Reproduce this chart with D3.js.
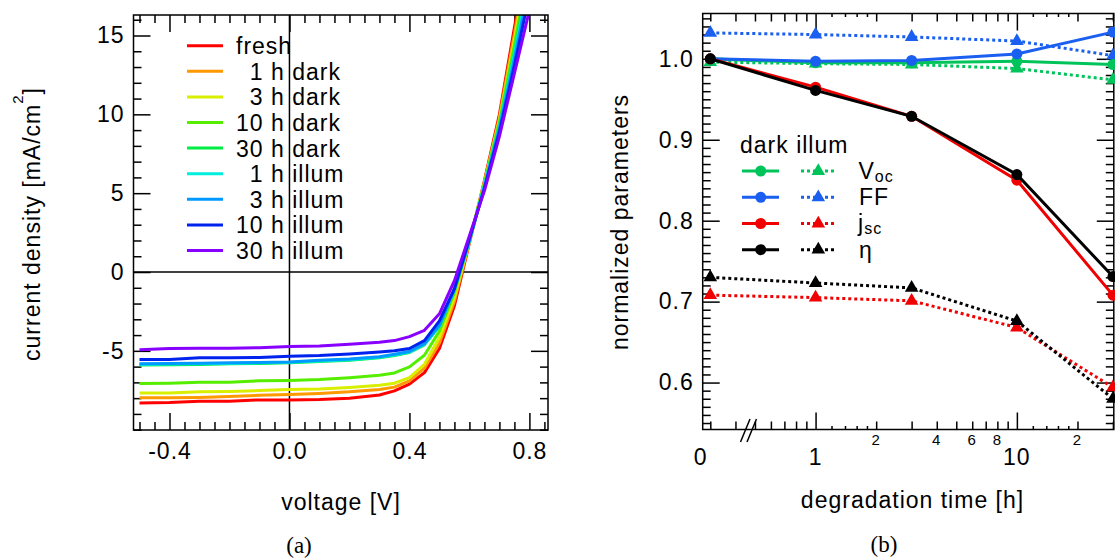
<!DOCTYPE html>
<html><head><meta charset="utf-8">
<script src="https://cdn.jsdelivr.net/npm/d3@7"></script>
<style>
body{margin:0;background:#fff}
svg{display:block}
</style></head><body>
<svg id="c" width="1115" height="558"></svg>
<script>
// ---------- panel (a): J-V curves ----------
const voltage   = [-0.5,-0.4,-0.3,-0.2,-0.1,0,0.1,0.2,0.3,0.35,0.4,0.45,0.5,0.55,0.6,0.65,0.7,0.75,0.8];
const jFresh    = [-8.30,-8.28,-8.19,-8.19,-8.11,-8.11,-8.08,-8.00,-7.80,-7.54,-7.11,-6.38,-4.85,-2.14,1.85,5.8,10.0,15.5,21.0];
const jDark1h   = [-7.98,-7.98,-7.96,-7.90,-7.82,-7.77,-7.70,-7.60,-7.45,-7.30,-6.90,-6.10,-4.50,-1.85,1.9,5.7,9.8,15.1,20.5];
const jDark3h   = [-7.68,-7.68,-7.60,-7.58,-7.52,-7.45,-7.42,-7.32,-7.18,-7.05,-6.70,-5.85,-4.15,-1.60,1.95,5.65,9.6,14.7,20.0];
const jDark10h  = [-7.07,-7.05,-6.99,-6.99,-6.90,-6.88,-6.82,-6.70,-6.55,-6.40,-6.02,-5.28,-3.75,-1.30,2.0,5.6,9.5,14.4,19.5];
const jDark30h  = [-5.90,-5.88,-5.86,-5.82,-5.80,-5.76,-5.68,-5.60,-5.44,-5.30,-5.10,-4.62,-3.45,-1.15,2.0,5.5,9.3,14.0,19.0];
const jIllum1h  = [-5.86,-5.84,-5.82,-5.80,-5.76,-5.73,-5.64,-5.56,-5.40,-5.26,-5.08,-4.58,-3.42,-1.12,2.0,5.45,9.2,13.8,18.7];
const jIllum3h  = [-5.82,-5.80,-5.78,-5.76,-5.74,-5.70,-5.60,-5.52,-5.37,-5.22,-5.04,-4.55,-3.38,-1.10,2.0,5.4,9.1,13.5,18.3];
const jIllum10h = [-5.55,-5.55,-5.44,-5.44,-5.42,-5.34,-5.30,-5.20,-5.08,-5.00,-4.85,-4.35,-3.10,-1.05,2.1,5.3,8.9,13.1,17.6];
const jIllum30h = [-4.93,-4.85,-4.83,-4.83,-4.80,-4.72,-4.70,-4.58,-4.45,-4.35,-4.10,-3.70,-2.65,-0.55,2.3,5.15,8.6,12.6,16.6];
const curveLabels = ["fresh","1 h dark","3 h dark","10 h dark","30 h dark","1 h illum","3 h illum","10 h illum","30 h illum"];
const curveColors = ["#ff0000","#ff9900","#d8f000","#55ee00","#00ee44","#00eedd","#0099ff","#0022ee","#8800ff"];
const curveSeries = [jFresh,jDark1h,jDark3h,jDark10h,jDark30h,jIllum1h,jIllum3h,jIllum10h,jIllum30h];
const jvXTicks = [-0.4,0.0,0.4,0.8];
const jvYTicks = [-5,0,5,10,15];

// ---------- panel (b): normalized parameters ----------
const times    = [0,1,3,10,30];
const vocDark  = [1.000,0.995,0.995,0.997,0.993];
const ffDark   = [1.000,0.997,0.998,1.006,1.033];
const jscDark  = [1.000,0.965,0.929,0.850,0.708];
const etaDark  = [1.000,0.961,0.929,0.857,0.731];
const vocIllum = [0.996,0.994,0.993,0.988,0.974];
const ffIllum  = [1.032,1.030,1.027,1.022,1.004];
const jscIllum = [0.708,0.705,0.701,0.668,0.594];
const etaIllum = [0.730,0.723,0.717,0.676,0.580];
const paramColors = ["#00c45a","#1a5ff0","#f00000","#000000"];
const paramYTicks = [0.6,0.7,0.8,0.9,1.0];
const timeMajorTicks = [1,10];
const timeMinorLabels = [2,4,6,8,20];

const svg = d3.select("#c");
const FONT = 23, LS = 1;
const SANS = '"Liberation Sans",Arial,Helvetica,sans-serif';
const SERIF = '"Liberation Serif","Times New Roman",serif';

function styleText(sel, size){
  sel.style("font-family",SANS).style("font-size",size+"px").style("letter-spacing",LS+"px").attr("fill","#000");
}
function cleanAxis(g){
  g.select(".domain").remove();
  g.selectAll(".tick line").attr("stroke","#000").attr("stroke-width",1.5);
  g.attr("font-family",null).attr("font-size",null);
  styleText(g.selectAll("text"), FONT);
}

// ===== Panel A =====
const A = {l:133.5, r:548, t:15, b:430};
const xA = d3.scaleLinear().domain([-0.52,0.862]).range([A.l,A.r]);
const yA = d3.scaleLinear().domain([-10.02,16.3]).range([A.b,A.t]);
const gA = svg.append("g");

const xMinorA = d3.range(-10,18).map(i=>i*0.05).filter(v=>v>-0.52&&v<0.862&&!jvXTicks.some(t=>Math.abs(t-v)<1e-6));
const yMinorA = d3.range(-10,17).filter(v=>!jvYTicks.includes(v));

gA.append("g").attr("transform",`translate(0,${A.b})`)
  .call(d3.axisBottom(xA).tickValues(jvXTicks).tickFormat(d=>d.toFixed(1)).tickSizeInner(-17).tickSizeOuter(0).tickPadding(13))
  .call(cleanAxis);
gA.append("g").attr("transform",`translate(0,${A.b})`)
  .call(d3.axisBottom(xA).tickValues(xMinorA).tickFormat("").tickSizeInner(-8).tickSizeOuter(0)).call(cleanAxis);
gA.append("g").attr("transform",`translate(0,${A.t})`)
  .call(d3.axisTop(xA).tickValues(jvXTicks).tickFormat("").tickSizeInner(-17).tickSizeOuter(0)).call(cleanAxis);
gA.append("g").attr("transform",`translate(0,${A.t})`)
  .call(d3.axisTop(xA).tickValues(xMinorA).tickFormat("").tickSizeInner(-8).tickSizeOuter(0)).call(cleanAxis);
gA.append("g").attr("transform",`translate(${A.l},0)`)
  .call(d3.axisLeft(yA).tickValues(jvYTicks).tickFormat(d=>String(d)).tickSizeInner(-17).tickSizeOuter(0).tickPadding(9))
  .call(cleanAxis);
gA.append("g").attr("transform",`translate(${A.l},0)`)
  .call(d3.axisLeft(yA).tickValues(yMinorA).tickFormat("").tickSizeInner(-8).tickSizeOuter(0)).call(cleanAxis);
gA.append("g").attr("transform",`translate(${A.r},0)`)
  .call(d3.axisRight(yA).tickValues(jvYTicks).tickFormat("").tickSizeInner(-17).tickSizeOuter(0)).call(cleanAxis);
gA.append("g").attr("transform",`translate(${A.r},0)`)
  .call(d3.axisRight(yA).tickValues(yMinorA).tickFormat("").tickSizeInner(-8).tickSizeOuter(0)).call(cleanAxis);

gA.append("line").attr("x1",A.l).attr("x2",A.r).attr("y1",yA(0)).attr("y2",yA(0)).attr("stroke","#000").attr("stroke-width",1.5);
gA.append("line").attr("x1",xA(0)).attr("x2",xA(0)).attr("y1",A.t).attr("y2",A.b).attr("stroke","#000").attr("stroke-width",1.5);

svg.append("clipPath").attr("id","clipA").append("rect").attr("x",A.l).attr("y",A.t).attr("width",A.r-A.l).attr("height",A.b-A.t);
const lineA = d3.line().x((d,i)=>xA(voltage[i])).y(d=>yA(d));
const cg = gA.append("g").attr("clip-path","url(#clipA)");
curveSeries.forEach((s,i)=>{
  cg.append("path").attr("d",lineA(s)).attr("fill","none").attr("stroke",curveColors[i]).attr("stroke-width",3).attr("stroke-linejoin","round");
});

gA.append("rect").attr("x",A.l).attr("y",A.t).attr("width",A.r-A.l).attr("height",A.b-A.t).attr("fill","none").attr("stroke","#000").attr("stroke-width",1.5);

const legA = gA.append("g");
curveLabels.forEach((lab,i)=>{
  const yy = 45.7 + i*25.6;
  legA.append("line").attr("x1",187).attr("x2",223).attr("y1",yy).attr("y2",yy).attr("stroke",curveColors[i]).attr("stroke-width",3);
  const m = lab.match(/^(\d+)/);
  const off = m ? (2-m[1].length)*13.8 : 0;
  styleText(legA.append("text").attr("x",236+off).attr("y",yy+8.5).text(lab), FONT);
});

styleText(gA.append("text").attr("x",341).attr("y",510).attr("text-anchor","middle").text("voltage [V]"), FONT);
const ytA = gA.append("text").attr("transform","translate(40,224) rotate(-90)").attr("text-anchor","middle");
styleText(ytA, FONT);
ytA.append("tspan").text("current density [mA/cm");
ytA.append("tspan").style("font-size","15px").attr("dy",-17).text("2");
ytA.append("tspan").attr("dy",17).text("]");
gA.append("text").attr("x",299).attr("y",553).attr("text-anchor","middle").style("font-family",SERIF).style("font-size","23px").text("(a)");

// ===== Panel B =====
const B = {l:702.7, r:1113.8, t:13.5, b:429.5};
const xB = d3.scaleLog().domain([0.275,30.3]).range([B.l,B.r]);
const yB = d3.scaleLinear().domain([0.542,1.056]).range([B.b,B.t]);
const zeroPos = 0.3; // log-axis position at which t = 0 is drawn
const tx = t => xB(t===0 ? zeroPos : t);
const gB = svg.append("g");

const yMinorB = d3.range(55,106).map(i=>i/100).filter(v=>!paramYTicks.some(t=>Math.abs(t-v)<1e-6));
const xMedB = [0.3,0.4,0.5,0.6,0.7,0.8,0.9,2,3,4,5,6,7,8,9,20,30];
const xSmallB = [1.2,1.4,1.6,1.8,12,14,16,18];

[[B.b,d3.axisBottom],[B.t,d3.axisTop]].forEach(([yy,ax])=>{
  gB.append("g").attr("transform",`translate(0,${yy})`)
    .call(ax(xB).tickValues(timeMajorTicks).tickFormat("").tickSizeInner(-17).tickSizeOuter(0)).call(cleanAxis);
  gB.append("g").attr("transform",`translate(0,${yy})`)
    .call(ax(xB).tickValues(xMedB).tickFormat("").tickSizeInner(-8).tickSizeOuter(0)).call(cleanAxis);
  gB.append("g").attr("transform",`translate(0,${yy})`)
    .call(ax(xB).tickValues(xSmallB).tickFormat("").tickSizeInner(-3.5).tickSizeOuter(0)).call(cleanAxis);
});
[[B.l,d3.axisLeft],[B.r,d3.axisRight]].forEach(([xx,ax],k)=>{
  gB.append("g").attr("transform",`translate(${xx},0)`)
    .call(ax(yB).tickValues(paramYTicks).tickFormat(k===0?(d=>d.toFixed(1)):"").tickSizeInner(-17).tickSizeOuter(0).tickPadding(9)).call(cleanAxis);
  gB.append("g").attr("transform",`translate(${xx},0)`)
    .call(ax(yB).tickValues(yMinorB).tickFormat("").tickSizeInner(-8).tickSizeOuter(0)).call(cleanAxis);
});

timeMajorTicks.forEach(t=>styleText(gB.append("text").attr("x",xB(t)).attr("y",465).attr("text-anchor","middle").text(String(t)),FONT));
styleText(gB.append("text").attr("x",B.l-2).attr("y",465).attr("text-anchor","middle").text("0"),FONT);
timeMinorLabels.forEach(t=>styleText(gB.append("text").attr("x",xB(t)).attr("y",445).attr("text-anchor","middle").text(String(t).charAt(0)),15));

gB.append("line").attr("x1",740.5).attr("y1",442).attr("x2",750).attr("y2",419).attr("stroke","#000").attr("stroke-width",1.5);
gB.append("line").attr("x1",747).attr("y1",442).attr("x2",756.5).attr("y2",419).attr("stroke","#000").attr("stroke-width",1.5);

gB.append("rect").attr("x",B.l).attr("y",B.t).attr("width",B.r-B.l).attr("height",B.b-B.t).attr("fill","none").attr("stroke","#000").attr("stroke-width",1.5);

const lineB = d3.line().x((d,i)=>tx(times[i])).y(d=>yB(d));
const tri = d3.symbol().type(d3.symbolTriangle).size(80);
const illumSeries = [vocIllum,ffIllum,jscIllum,etaIllum];
const darkSeries  = [vocDark,ffDark,jscDark,etaDark];
const dg = gB.append("g");
illumSeries.forEach((s,i)=>{
  dg.append("path").attr("d",lineB(s)).attr("fill","none").attr("stroke",paramColors[i]).attr("stroke-width",3).attr("stroke-dasharray","3,3");
  s.forEach((v,j)=>dg.append("path").attr("d",tri()).attr("transform",`translate(${tx(times[j])},${yB(v)})`).attr("fill",paramColors[i]));
});
darkSeries.forEach((s,i)=>{
  dg.append("path").attr("d",lineB(s)).attr("fill","none").attr("stroke",paramColors[i]).attr("stroke-width",3);
  s.forEach((v,j)=>dg.append("circle").attr("cx",tx(times[j])).attr("cy",yB(v)).attr("r",5.5).attr("fill",paramColors[i]));
});

styleText(gB.append("text").attr("x",740).attr("y",153).text("dark illum"),FONT);
const legRows = [171,197.3,223.5,249.7];
legRows.forEach((yy,i)=>{
  gB.append("line").attr("x1",742).attr("x2",779).attr("y1",yy).attr("y2",yy).attr("stroke",paramColors[i]).attr("stroke-width",3);
  gB.append("circle").attr("cx",760.7).attr("cy",yy).attr("r",5.5).attr("fill",paramColors[i]);
  gB.append("line").attr("x1",801).attr("x2",836).attr("y1",yy).attr("y2",yy).attr("stroke",paramColors[i]).attr("stroke-width",3).attr("stroke-dasharray","3,3");
  gB.append("path").attr("d",tri()).attr("transform",`translate(818.3,${yy})`).attr("fill",paramColors[i]);
});
const lv = gB.append("text").attr("x",858.5).attr("y",legRows[0]+7.5); styleText(lv,FONT);
lv.append("tspan").text("V"); lv.append("tspan").style("font-size","16px").attr("dy",3).text("oc");
const lf = gB.append("text").attr("x",859).attr("y",legRows[1]+7.5); styleText(lf,FONT); lf.text("FF");
const lj = gB.append("text").attr("x",858).attr("y",legRows[2]+7.5); styleText(lj,FONT);
lj.append("tspan").text("j"); lj.append("tspan").style("font-size","16px").attr("dy",3).text("sc");
const le = gB.append("text").attr("x",859).attr("y",legRows[3]+8); styleText(le,FONT); le.text("η");

styleText(gB.append("text").attr("x",912.5).attr("y",508).attr("text-anchor","middle").text("degradation time [h]"),FONT);
styleText(gB.append("text").attr("transform","translate(627.5,222) rotate(-90)").attr("text-anchor","middle").text("normalized parameters"),FONT);
gB.append("text").attr("x",884).attr("y",552).attr("text-anchor","middle").style("font-family",SERIF).style("font-size","23px").text("(b)");
</script>
</body></html>
